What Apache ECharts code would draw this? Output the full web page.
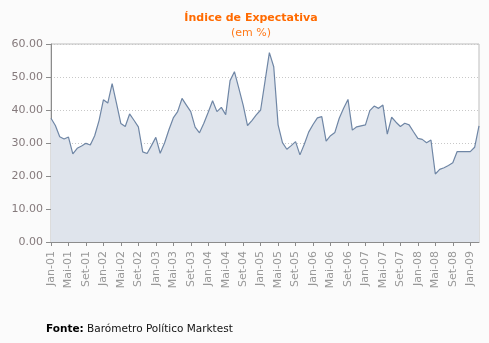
<!DOCTYPE html>
<html>
<head>
<meta charset="utf-8">
<script src="https://cdn.jsdelivr.net/npm/echarts@6/dist/echarts.min.js"></script>
<style>html,body{margin:0;padding:0;background:#fbfbfb;}#c{width:489px;height:343px;}</style>
</head>
<body>
<div id="c"></div>
<script>
var monthNames = ['Jan','Fev','Mar','Abr','Mai','Jun','Jul','Ago','Set','Out','Nov','Dez'];
var years = ['01','02','03','04','05','06','07','08','09'];
var categories = [];
years.forEach(function(y){ monthNames.forEach(function(m){ categories.push(m + '-' + y); }); });
categories = categories.slice(0, 99);

var values = [
  37.5, 35.3, 31.9, 31.2, 31.8, 26.7, 28.4, 29.1, 29.9, 29.4, 32.2, 36.8,
  43.1, 42.1, 48.0, 42.0, 35.9, 35.0, 38.8, 36.9, 34.9, 27.3, 26.8, 29.2,
  31.7, 26.9, 30.0, 34.0, 37.6, 39.5, 43.5, 41.5, 39.5, 34.8, 33.1, 36.0,
  39.3, 42.8, 39.5, 40.8, 38.6, 48.9, 51.6, 46.6, 41.5, 35.3, 36.8, 38.5,
  40.0, 48.7, 57.4, 53.1, 35.5, 30.1, 28.1, 29.2, 30.4, 26.4, 29.6, 33.3,
  35.6, 37.6, 38.0, 30.6, 32.2, 33.2, 37.5, 40.5, 43.2, 33.9, 34.9, 35.2,
  35.5, 39.8, 41.2, 40.5, 41.5, 32.7, 37.8, 36.3, 35.0, 36.0, 35.5, 33.4,
  31.4, 31.1, 30.1, 30.9, 20.6, 22.0, 22.5, 23.2, 24.0, 27.4, 27.4, 27.4,
  27.4, 28.7, 35.2
];

var titleText = 'Índice de Expectativa';
var subtitleText = '(em %)';
var sourceLabel = 'Fonte:';
var sourceText = ' Barómetro Político Marktest';

var chart = echarts.init(document.getElementById('c'), null, {renderer: 'canvas'});
var font = 'DejaVu Sans';
chart.setOption({
  backgroundColor: '#fbfbfb',
  animation: false,
  grid: {left: 51, right: 10, top: 44, bottom: 101, show: true, backgroundColor: '#ffffff', borderColor: '#bdbdbd', borderWidth: 1},
  graphic: [
    {type: 'text', x: 251, y: 13, style: {text: titleText, fill: '#ff6a00', font: 'bold 11px "DejaVu Sans"', textAlign: 'center'}},
    {type: 'text', x: 251, y: 28, style: {text: subtitleText, fill: '#ff7a1a', font: '11px "DejaVu Sans"', textAlign: 'center'}},
    {type: 'text', x: 46, y: 324, style: {
      text: '{b|' + sourceLabel + '}{n|' + sourceText + '}',
      rich: {
        b: {fontFamily: font, fontWeight: 'bold', fontSize: 10.5, fill: '#000'},
        n: {fontFamily: font, fontSize: 10.5, fill: '#111'}
      }
    }}
  ],
  xAxis: {
    type: 'category',
    data: categories,
    boundaryGap: false,
    axisLine: {lineStyle: {color: '#8c8c8c'}},
    axisTick: {interval: 3, length: 4, lineStyle: {color: '#8c8c8c'}},
    axisLabel: {interval: 3, rotate: 90, margin: 9, color: '#989898', fontFamily: font, fontSize: 11},
    splitLine: {show: false}
  },
  yAxis: {
    type: 'value',
    min: 0, max: 60, interval: 10,
    axisLine: {show: true, lineStyle: {color: '#8c8c8c'}},
    axisTick: {show: true, length: 5, lineStyle: {color: '#8c8c8c'}},
    axisLabel: {color: '#857a7c', fontFamily: font, fontSize: 11, margin: 8,
      formatter: function(v){ return v.toFixed(2); }},
    splitLine: {show: true, lineStyle: {color: '#c8c8c8', type: [1, 2]}}
  },
  series: [{
    type: 'line',
    data: values,
    symbol: 'none',
    lineStyle: {color: '#6f86a5', width: 1.2},
    areaStyle: {color: '#dfe4ec', opacity: 1},
    z: 1
  }]
});
</script>
</body>
</html>
